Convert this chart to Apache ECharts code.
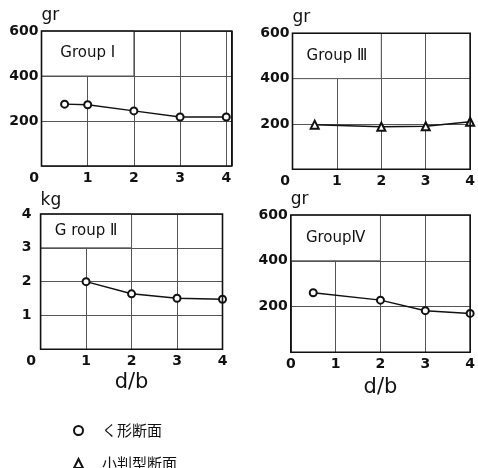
<!DOCTYPE html>
<html>
<head>
<meta charset="utf-8">
<script src="https://cdn.jsdelivr.net/npm/echarts@6/dist/echarts.min.js"></script>
<style>
  html, body { margin: 0; padding: 0; background: #fff; }
  #c { width: 478px; height: 468px; }
</style>
</head>
<body>
<div id="c"></div>
<script>
// d/b values and measured loads for each group
const xG1 = [0.5, 1, 2, 3, 4];
const yG1 = [275, 272, 245, 218, 218];
const xG2 = [1, 2, 3, 4];
const yG2 = [2.0, 1.64, 1.51, 1.48];
const xG3 = [0.5, 2, 3, 4];
const yG3 = [197, 188, 190, 210];
const xG4 = [0.5, 2, 3, 4];
const yG4 = [260, 228, 182, 170];

const groupNames = ['Group Ⅰ', 'G roup Ⅱ', 'Group Ⅲ', 'GroupⅣ'];
const unitNames = ['gr', 'kg', 'gr', 'gr'];
const xName = 'd/b';
const legendNames = ['く形断面', '小判型断面'];

const NUM_FONT = 'DejaVu Sans';
const INK = '#111';
const GRIDC = '#555';

function pairs(xs, ys) { return xs.map((x, i) => [x, ys[i]]); }

const grids = [
  { left: 41.5, top: 31, width: 190.3, height: 135 },
  { left: 40.6, top: 214, width: 181.9, height: 135.3 },
  { left: 292.5, top: 33.3, width: 182.5, height: 136 },
  { left: 290.8, top: 215, width: 183.5, height: 137.3 }
].map(g => Object.assign({ show: true, z: 10, borderColor: INK, borderWidth: 1.6, backgroundColor: 'transparent' }, g));

const xCfg = [
  { max: 4.12, zeroPad: 15, showName: false },
  { max: 4, zeroPad: 19, showName: true, nameGap: 23 },
  { max: 4, zeroPad: 15, showName: false },
  { max: 4, zeroPad: 0, showName: true, nameGap: 25 }
];
const yCfg = [
  { max: 600, interval: 200, margin: 3, nameGap: 11 },
  { max: 4, interval: 1, margin: 9, nameGap: 13 },
  { max: 600, interval: 200, margin: 3, nameGap: 8 },
  { max: 600, interval: 200, margin: 3, nameGap: 7 }
];

const xAxes = xCfg.map((c, i) => ({
  type: 'value', gridIndex: i, min: 0, max: c.max, interval: 1,
  axisLine: { show: false }, axisTick: { show: false },
  splitLine: { show: true, lineStyle: { color: GRIDC, width: 1 } },
  axisLabel: {
    margin: 5, color: INK, fontFamily: NUM_FONT, fontSize: 14, fontWeight: 'bold',
    showMaxLabel: true,
    formatter: v => Number.isInteger(v) ? (v === 0 ? '{z|0}' : String(v)) : '',
    rich: { z: { fontFamily: NUM_FONT, fontSize: 14, fontWeight: 'bold', color: INK, padding: [0, c.zeroPad, 0, 0] } }
  },
  name: c.showName ? xName : '', nameLocation: 'middle', nameGap: c.nameGap || 0,
  nameTextStyle: { fontFamily: NUM_FONT, fontSize: 21, color: INK, verticalAlign: 'top' }
}));

const yAxes = yCfg.map((c, i) => ({
  type: 'value', gridIndex: i, min: 0, max: c.max, interval: c.interval,
  axisLine: { show: false }, axisTick: { show: false },
  splitLine: { show: true, lineStyle: { color: GRIDC, width: 1 } },
  axisLabel: {
    margin: c.margin, color: INK, fontFamily: NUM_FONT, fontSize: 14, fontWeight: 'bold',
    formatter: v => v === 0 ? '' : String(v)
  },
  name: unitNames[i], nameLocation: 'end', nameGap: c.nameGap,
  nameTextStyle: { fontFamily: NUM_FONT, fontSize: 17, color: INK, align: 'left', verticalAlign: 'middle' }
}));

// white caption box occupying the upper-left cell of every panel
function captionBox(i) {
  const top = yCfg[i].max, low = yCfg[i].max - yCfg[i].interval;
  return {
    silent: true,
    itemStyle: { color: '#fff', borderColor: GRIDC, borderWidth: 1 },
    label: { show: true, position: 'inside', color: INK, fontFamily: 'DejaVu Sans, Noto Sans CJK JP', fontSize: 15 },
    data: [[{ name: groupNames[i], xAxis: 0, yAxis: low }, { xAxis: 2, yAxis: top }]]
  };
}

function lineSeries(i, name, symbol, data) {
  return {
    type: 'line', name: name, xAxisIndex: i, yAxisIndex: i, data: data,
    symbol: symbol, symbolSize: symbol === 'emptyTriangle' ? 8 : 7,
    lineStyle: { color: INK, width: 1.5 },
    itemStyle: { color: INK, borderColor: INK, borderWidth: 1.5 },
    animation: false,
    markArea: captionBox(i)
  };
}

const series = [
  lineSeries(0, legendNames[0], 'emptyCircle', pairs(xG1, yG1)),
  lineSeries(1, legendNames[0], 'emptyCircle', pairs(xG2, yG2)),
  lineSeries(2, legendNames[1], 'emptyTriangle', pairs(xG3, yG3)),
  lineSeries(3, legendNames[0], 'emptyCircle', pairs(xG4, yG4))
];

const legendText = { fontFamily: 'Noto Sans CJK JP', fontSize: 15, color: INK, padding: [0, 0, 0, 14] };
const legends = [
  { data: [{ name: legendNames[0], icon: 'emptyCircle' }], left: 68, top: 418, itemWidth: 9, itemHeight: 9, textStyle: legendText, selectedMode: false },
  { data: [{ name: legendNames[1], icon: 'emptyTriangle' }], left: 68, top: 451, itemWidth: 9, itemHeight: 9, textStyle: legendText, selectedMode: false }
];

const chart = echarts.init(document.getElementById('c'), null, { renderer: 'canvas' });
chart.setOption({
  backgroundColor: '#fff',
  animation: false,
  grid: grids,
  xAxis: xAxes,
  yAxis: yAxes,
  legend: legends,
  series: series
});
</script>
</body>
</html>
